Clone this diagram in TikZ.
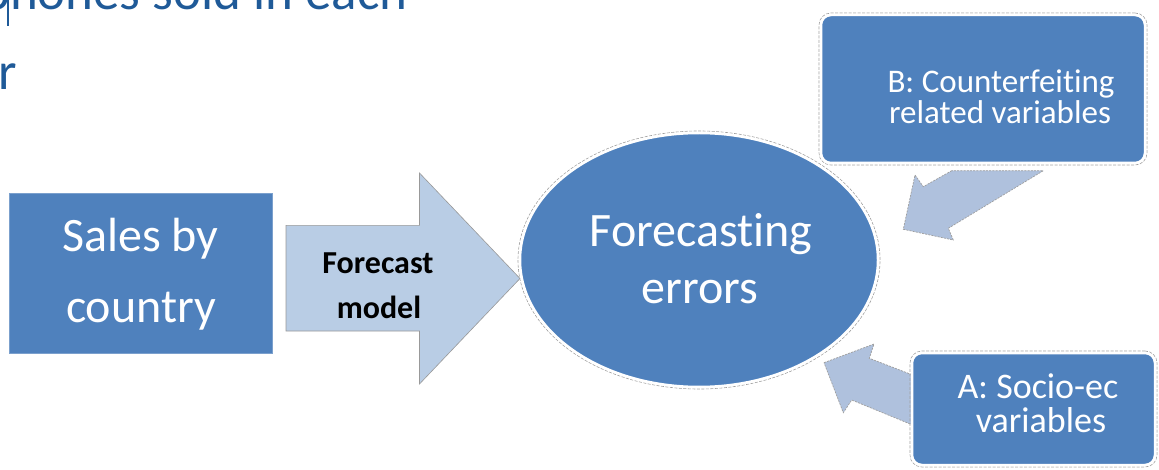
\documentclass[tikz,border=0pt]{standalone}
\usepackage{fontspec}
\setmainfont{Carlito}[Ligatures=NoCommon,Contextuals=NoAlternate]
\usetikzlibrary{shapes.geometric}
\definecolor{mainblue}{HTML}{4F81BD}
\definecolor{lightarrow}{HTML}{B9CDE5}
\definecolor{sidearrow}{HTML}{AFC1DD}
\definecolor{topblue}{HTML}{1F5A98}
\begin{document}
\begin{tikzpicture}[x=1pt,y=-1pt,
  wtxt/.style={text=white, inner sep=0pt, anchor=base},
  halo/.style={draw=gray!75, line width=0.6pt, dash pattern=on 3pt off 1.5pt},
  bluebox/.style={rectangle, fill=mainblue, draw=white, line width=2.5pt, inner sep=0pt},
  sidearr/.style={fill=sidearrow, draw=gray!75, line width=0.7pt, dash pattern=on 2pt off 1.2pt},
  bigfont/.style={font=\fontsize{48}{56}\selectfont},
  midfont/.style={font=\fontsize{33}{38}\selectfont},
  afont/.style={font=\fontsize{36}{40}\selectfont}]
\useasboundingbox (0,0) rectangle (1159,470);
\fill[white] (0,0) rectangle (1159,470);

% cut-off heading text
\begin{scope}
\clip (0,0) rectangle (1159,470);
\node[anchor=base west, inner sep=0pt, text=topblue, font=\fontsize{53}{60}\selectfont] (cap1) at (-18,10) {phones sold in each};
\node[anchor=base west, inner sep=0pt, text=topblue, font=\fontsize{53}{60}\selectfont] (cap2) at (-2,90) {r};
\draw[topblue, line width=1.6pt] (8,0) -- (8,26);
\end{scope}

% Sales by country
\node[rectangle, fill=mainblue, draw=mainblue!75!white, line width=0.6pt, inner sep=0pt,
      minimum width=263pt, minimum height=160pt] (sales) at (140.5,273) {};
\node[wtxt, bigfont] (sales1) at (140.5,251.7) {Sales by};
\node[wtxt, bigfont] (sales2) at (141,323) {country};

% Forecast model block arrow
\filldraw[fill=lightarrow, draw=gray!80, line width=0.6pt]
  (286,225.4) -- (419.5,225.4) -- (419.5,173) -- (520,278.5) -- (419.5,384) -- (419.5,331) -- (286,331) -- cycle;
\node[anchor=base, inner sep=0pt, font=\fontsize{32}{38}\selectfont\bfseries] (fc1) at (378,273.6) {Forecast};
\node[anchor=base, inner sep=0pt, font=\fontsize{32}{38}\selectfont\bfseries] (fc2) at (379,318.4) {model};

% side arrows
\path[sidearr] (951.7,170.7) -- (923.3,186.7) -- (915,175) -- (903.3,229.3) -- (953.3,240) -- (948.3,228.3) -- (1043.3,170.7) -- cycle;
\path[sidearr] (824,362.7) -- (874,344) -- (869.3,358.3) -- (915,375.9) -- (915,426) -- (851.7,400) -- (843.3,412.7) -- cycle;

% Forecasting errors ellipse
\node[ellipse, halo, inner sep=0pt, minimum width=362pt, minimum height=258pt] (errhalo) at (699,260) {};
\node[ellipse, fill=mainblue, draw=white, line width=2.5pt, inner sep=0pt,
      minimum width=358pt, minimum height=254pt] (err) at (699,260) {};
\node[wtxt, bigfont] (err1) at (701,247) {Forecast\kern0pt ing};
\node[wtxt, bigfont] (err2) at (700,303) {errors};

% Box B
\node[rectangle, rounded corners=12pt, halo, inner sep=0pt, minimum width=328pt, minimum height=152pt] (bhalo) at (983,89) {};
\node[bluebox, rounded corners=10pt, minimum width=324pt, minimum height=148pt] (boxB) at (983,89) {};
\node[wtxt, midfont] (b1) at (1001,93) {B: Counterfeit\kern0pt ing};
\node[wtxt, midfont] (b2) at (1000,124) {related variables};

% Box A
\node[rectangle, rounded corners=12pt, halo, inner sep=0pt, minimum width=247pt, minimum height=116pt] (ahalo) at (1033.5,409) {};
\node[bluebox, rounded corners=10pt, minimum width=243pt, minimum height=112pt] (boxA) at (1033.5,409) {};
\node[wtxt, afont] (a1) at (1038,398) {A: Socio-ec};
\node[wtxt, afont] (a2) at (1041,432.5) {variables};
\end{tikzpicture}
\end{document}
